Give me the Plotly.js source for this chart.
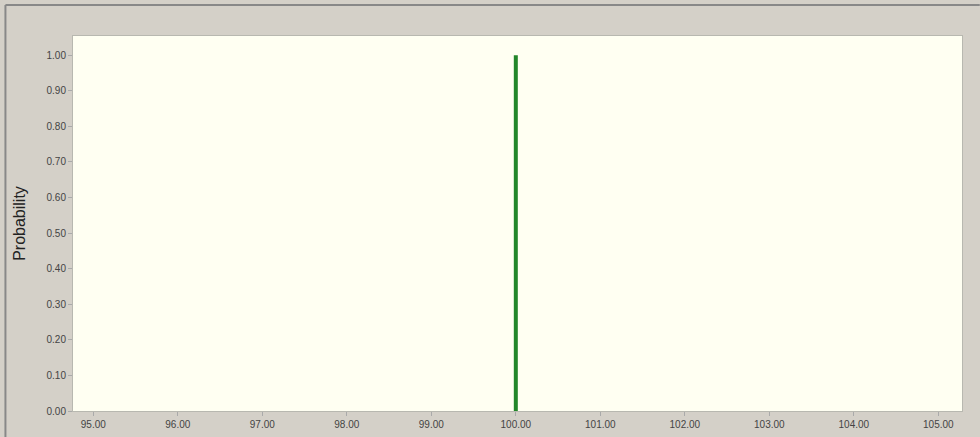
<!DOCTYPE html>
<html><head><meta charset="utf-8">
<script src="https://cdn.plot.ly/plotly-3.0.1.min.js"></script>
<style>html,body{margin:0;padding:0;background:#d4d0c8;}</style>
</head><body><div id="chart" style="width:980px;height:437px;"></div>
<script>
const outcomes = [100.00];
const probabilities = [1.00];
const xTicks = [95,96,97,98,99,100,101,102,103,104,105];
const yTicks = [0,0.1,0.2,0.3,0.4,0.5,0.6,0.7,0.8,0.9,1.0];

const xs = [], ys = [];
outcomes.forEach((o,i)=>{ xs.push(o,o,null); ys.push(0,probabilities[i],null); });

const trace = {x: xs, y: ys, mode: 'lines', line: {color: '#23862a', width: 4}, hoverinfo: 'skip', showlegend: false};

const layout = {
  width: 980, height: 437,
  margin: {l: 73, r: 18, t: 36, b: 26},
  paper_bgcolor: '#d4d0c8',
  plot_bgcolor: '#fffff2',
  font: {family: 'Arial, Liberation Sans, sans-serif', size: 10, color: '#444'},
  xaxis: {range: [94.76, 105.28], tickvals: xTicks, ticktext: xTicks.map(v=>v.toFixed(2)),
    ticks: 'outside', ticklen: 4, tickcolor: '#aaa', showgrid: false, zeroline: false,
    showline: true, linecolor: '#b8b8b0', mirror: true, tickfont: {size: 10, color: '#444'}},
  yaxis: {range: [0, 1.054], tickvals: yTicks, ticktext: yTicks.map(v=>v.toFixed(2)),
    ticks: 'outside', ticklen: 4, tickcolor: '#aaa', showgrid: false, zeroline: false,
    showline: true, linecolor: '#b8b8b0', mirror: true, tickfont: {size: 10, color: '#444'},
    title: {text: 'Probability', font: {size: 16, color: '#222'}, standoff: 16}},
  shapes: [
    {type: 'line', xref: 'paper', yref: 'paper', x0: -0.076, x1: 1.02, y0: 1.083, y1: 1.083, line: {color: '#888', width: 2}},
    {type: 'line', xref: 'paper', yref: 'paper', x0: -0.076, x1: -0.076, y0: 1.083, y1: -0.08, line: {color: '#888', width: 2}}
  ]
};
Plotly.newPlot('chart', [trace], layout, {displayModeBar: false, staticPlot: true});
</script></body></html>
